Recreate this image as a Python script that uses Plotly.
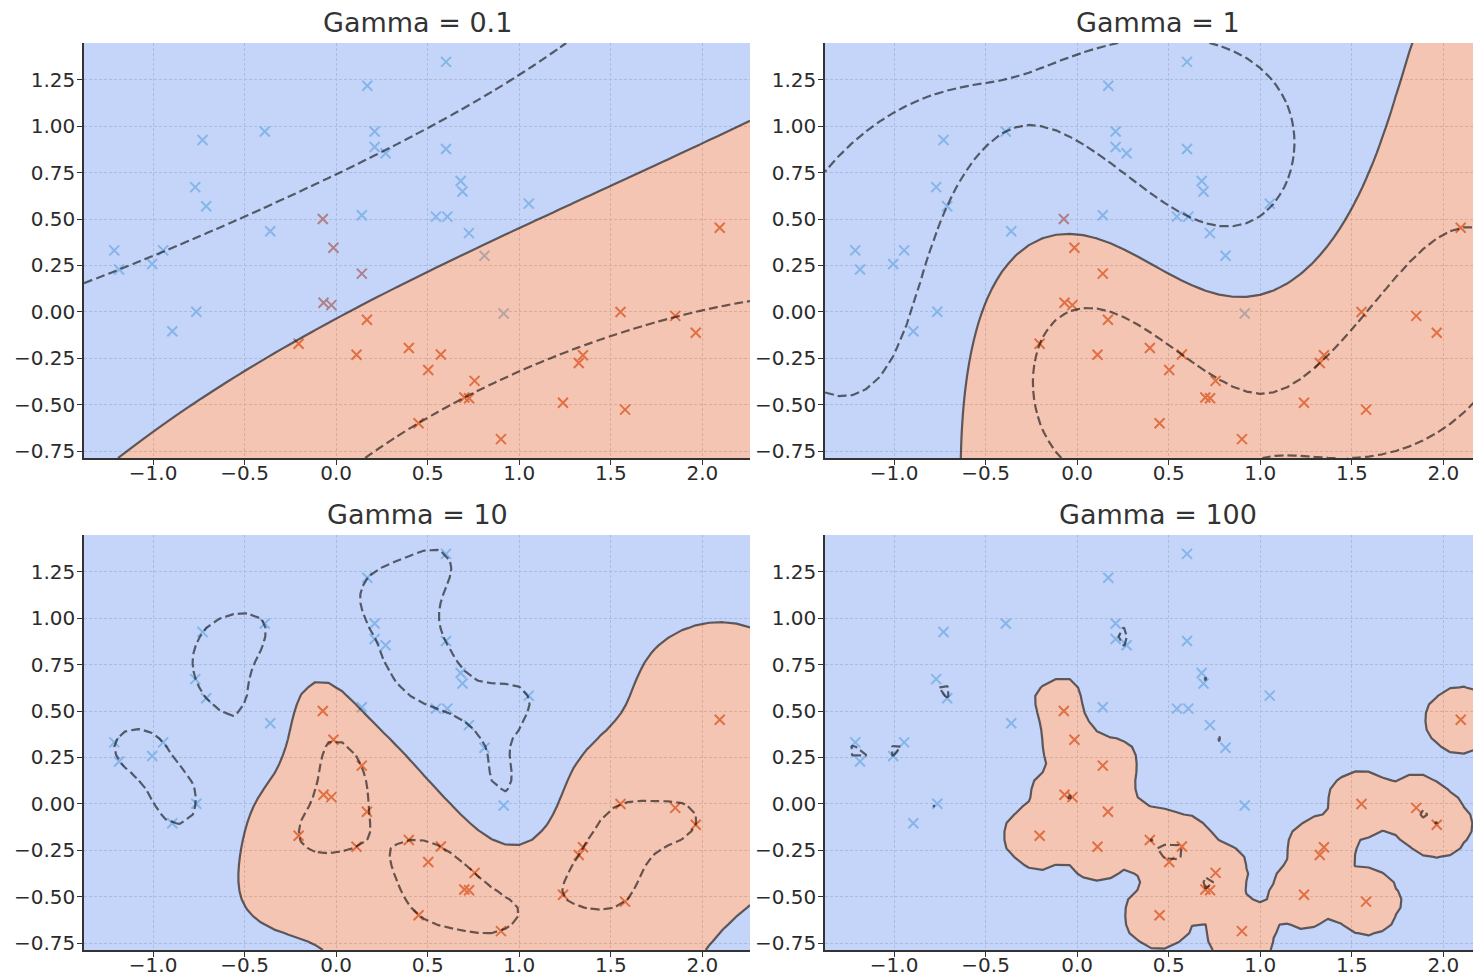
import numpy as np
import plotly.graph_objects as go

# ---------------- data ----------------
blue_x = [0.60, 0.17, -0.39, -0.73, 0.21, 0.21, 0.27, 0.60, -0.77, -0.71, -0.36, 0.14,
          0.68, 0.69, 0.545, 0.607, 0.725, 1.052, 0.81, 0.915, -1.212, -1.186, -0.945,
          -1.005, -0.895, -0.764]
blue_y = [1.347, 1.218, 0.972, 0.926, 0.972, 0.888, 0.855, 0.877, 0.672, 0.569, 0.434, 0.52,
          0.705, 0.648, 0.513, 0.513, 0.424, 0.583, 0.302, -0.009, 0.331, 0.228, 0.331,
          0.258, -0.105, 0.0]
orange_x = [-0.073, -0.015, 0.14, -0.069, -0.026, 0.168, -0.205, 0.111, 0.397, 0.45,
            0.572, 0.503, 0.756, 0.70, 0.726, 0.90, 1.239, 1.325, 1.348, 1.553, 1.578,
            1.852, 1.964, 2.095]
orange_y = [0.50, 0.345, 0.206, 0.049, 0.036, -0.043, -0.172, -0.231, -0.195, -0.60,
            -0.23, -0.313, -0.372, -0.462, -0.466, -0.686, -0.49, -0.276, -0.234, -0.001,
            -0.527, -0.022, -0.113, 0.453]
gammas = [0.1, 1, 10, 100]
titles = ["Gamma = 0.1", "Gamma = 1", "Gamma = 10", "Gamma = 100"]
C_value = 1.0
x_ticks = [-1.0, -0.5, 0.0, 0.5, 1.0, 1.5, 2.0]
y_ticks = [-0.75, -0.5, -0.25, 0.0, 0.25, 0.5, 0.75, 1.0, 1.25]
mesh_points = 50

# ---------------- model ----------------
X = np.column_stack([np.r_[blue_x, orange_x], np.r_[blue_y, orange_y]])
lab = np.r_[-np.ones(len(blue_x)), np.ones(len(orange_x))]


def rbf(A, B, g):
    d = ((A[:, None, :] - B[None, :, :]) ** 2).sum(-1)
    return np.exp(-g * d)


def fit_svc(Xd, y, g, C=1.0, tol=1e-3, max_iter=200000):
    n = len(y)
    K = rbf(Xd, Xd, g)
    Q = (y[:, None] * y[None, :]) * K
    a = np.zeros(n)
    G = -np.ones(n)
    for _ in range(max_iter):
        v = -y * G
        up = ((y > 0) & (a < C)) | ((y < 0) & (a > 0))
        low = ((y < 0) & (a < C)) | ((y > 0) & (a > 0))
        iu = np.where(up)[0]
        il = np.where(low)[0]
        i = iu[np.argmax(v[iu])]
        j = il[np.argmin(v[il])]
        if v[i] - v[j] < tol:
            break
        eta = max(K[i, i] + K[j, j] - 2 * K[i, j], 1e-12)
        t = (v[i] - v[j]) / eta
        ti = C - a[i] if y[i] > 0 else a[i]
        tj = a[j] if y[j] > 0 else C - a[j]
        t = min(t, ti, tj)
        a[i] += y[i] * t
        a[j] -= y[j] * t
        G += t * (Q[:, i] * y[i] - Q[:, j] * y[j])
    yG = y * G
    free = (a > 1e-10) & (a < C - 1e-10)
    if free.any():
        rho = yG[free].mean()
    else:
        ub, lb = np.inf, -np.inf
        for k in range(n):
            if a[k] >= C - 1e-10:
                if y[k] < 0:
                    ub = min(ub, yG[k])
                else:
                    lb = max(lb, yG[k])
            else:
                if y[k] > 0:
                    ub = min(ub, yG[k])
                else:
                    lb = max(lb, yG[k])
        rho = (ub + lb) / 2
    return a, rho


x0, x1 = X[:, 0].min(), X[:, 0].max()
y0, y1 = X[:, 1].min(), X[:, 1].max()
xlo, xhi = x0 - 0.05 * (x1 - x0), x1 + 0.05 * (x1 - x0)
ylo, yhi = y0 - 0.05 * (y1 - y0), y1 + 0.05 * (y1 - y0)
xs = np.linspace(xlo, xhi, mesh_points)
ys = np.linspace(ylo, yhi, mesh_points)
XX, YY = np.meshgrid(xs, ys)
grid = np.column_stack([XX.ravel(), YY.ravel()])

# ---------------- styling ----------------
W, H = 1473, 976
fill_blue = "rgb(126,164,242)"
fill_orange = "rgb(235,128,88)"
pt_blue = "rgb(140,196,226)"
pt_orange = "rgb(216,100,50)"
line_col = "rgba(0,0,0,0.58)"
tick_col = "#2b2b2b"
font_family = "DejaVu Sans"

xdom_left = [84 / W, 750 / W]
xdom_right = [825 / W, 1.0]
ydom_top = [1 - 458 / H, 1 - 43 / H]
ydom_bot = [1 - 950 / H, 1 - 535 / H]
right_frac = (W - 825) / (750 - 84)

panels = [
    dict(dx=xdom_left, dy=ydom_top, xr=[xlo, xhi], tx=417),
    dict(dx=xdom_right, dy=ydom_top, xr=[xlo, xlo + (xhi - xlo) * right_frac], tx=1158),
    dict(dx=xdom_left, dy=ydom_bot, xr=[xlo, xhi], tx=417),
    dict(dx=xdom_right, dy=ydom_bot, xr=[xlo, xlo + (xhi - xlo) * right_frac], tx=1158),
]

fig = go.Figure()
layout = dict(width=W, height=H, margin=dict(l=0, r=0, t=0, b=0),
              paper_bgcolor="white", plot_bgcolor="white", showlegend=False,
              font=dict(family=font_family, color=tick_col), annotations=[])

for k, (g, title, p) in enumerate(zip(gammas, titles, panels)):
    n = k + 1
    xa = "x" if n == 1 else f"x{n}"
    ya = "y" if n == 1 else f"y{n}"
    yo = f"y{n + 4}"
    axis_common = dict(showline=True, linecolor="#333333", linewidth=1.5,
                       ticks="outside", ticklen=5, tickwidth=1.3, tickcolor="#333333",
                       tickfont=dict(size=20, color=tick_col, family=font_family),
                       showgrid=True, gridcolor="#cfcfcf", gridwidth=1, griddash="3px,2px",
                       zeroline=False, layer="above traces", automargin=False, fixedrange=True)
    layout["xaxis" if n == 1 else f"xaxis{n}"] = dict(
        axis_common, domain=p["dx"], range=p["xr"], anchor=ya,
        tickvals=x_ticks, tickformat=".1f", ticklabelstandoff=-9)
    layout["yaxis" if n == 1 else f"yaxis{n}"] = dict(
        axis_common, domain=p["dy"], range=[ylo, yhi], anchor=xa,
        tickvals=y_ticks, tickformat=".2f", ticklabelstandoff=-2)
    layout[f"yaxis{n + 4}"] = dict(overlaying=ya, anchor=xa, range=[ylo, yhi],
                                   visible=False, showgrid=False, zeroline=False,
                                   fixedrange=True)

    a, rho = fit_svc(X, lab, g, C=C_value)
    Z = (rbf(grid, X, g) @ (a * lab) - rho).reshape(XX.shape)
    Z = np.round(Z, 4)

    # points (drawn below the translucent fill)
    fig.add_trace(go.Scatter(x=blue_x, y=blue_y, mode="markers", xaxis=xa, yaxis=ya,
                             marker=dict(symbol="x-thin", size=10, color=pt_blue,
                                         line=dict(width=2, color=pt_blue)),
                             hoverinfo="skip"))
    fig.add_trace(go.Scatter(x=orange_x, y=orange_y, mode="markers", xaxis=xa, yaxis=ya,
                             marker=dict(symbol="x-thin", size=10, color=pt_orange,
                                         line=dict(width=2, color=pt_orange)),
                             hoverinfo="skip"))
    # filled decision regions
    fig.add_trace(go.Contour(x=xs, y=ys, z=Z, xaxis=xa, yaxis=yo, autocontour=False,
                             contours=dict(start=0, end=0, size=1, coloring="fill",
                                           showlines=False),
                             colorscale=[[0, fill_blue], [1, fill_orange]],
                             showscale=False, opacity=0.45,
                             line=dict(width=0, smoothing=0), hoverinfo="skip"))
    # decision boundary
    fig.add_trace(go.Contour(x=xs, y=ys, z=Z, xaxis=xa, yaxis=yo, autocontour=False,
                             contours=dict(start=0, end=0, size=1, coloring="none"),
                             line=dict(color=line_col, width=2.2, smoothing=0),
                             showscale=False, hoverinfo="skip"))
    # margins
    fig.add_trace(go.Contour(x=xs, y=ys, z=Z, xaxis=xa, yaxis=yo, autocontour=False,
                             contours=dict(start=-1, end=1, size=2, coloring="none"),
                             line=dict(color=line_col, width=2.2, dash="9px,4px", smoothing=0),
                             showscale=False, hoverinfo="skip"))

    ty = 22 if n <= 2 else 514
    layout["annotations"].append(dict(text=title, x=p["tx"] / W, y=1 - ty / H,
                                      xref="paper", yref="paper", xanchor="center",
                                      yanchor="middle", showarrow=False,
                                      font=dict(size=27, color="#333333", family=font_family)))

fig.update_layout(**layout)
fig.write_html("out.html", config={"displayModeBar": False},
               post_script="document.body.style.margin='0';document.body.style.overflow='hidden';")
